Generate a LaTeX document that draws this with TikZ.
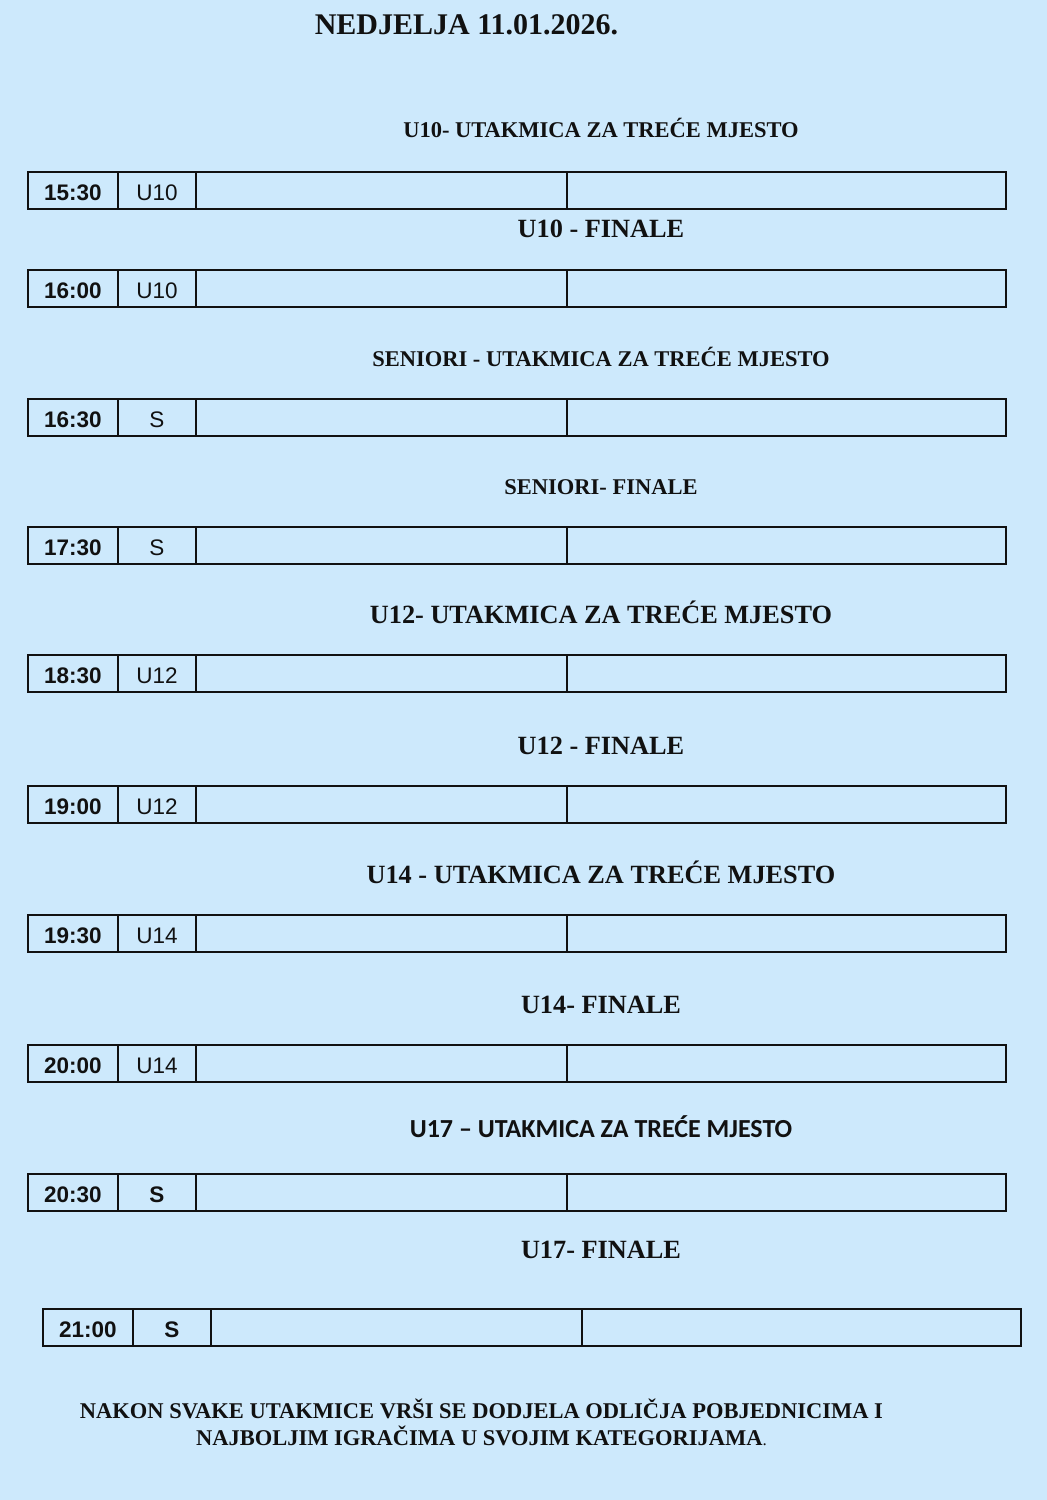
\documentclass[tikz,border=0pt]{standalone}
\usepackage{fontspec}
\setmainfont{Liberation Serif}
\setsansfont{Liberation Sans}
\newfontfamily\carlitofont{Carlito}
\definecolor{bgblue}{RGB}{205,233,252}
\definecolor{ink}{RGB}{17,17,17}
\tikzset{
  cellbox/.style={draw=ink, line width=1.5pt, inner sep=0pt, outer sep=0pt, anchor=north west, minimum height=37pt, text=ink, text height=19pt, text depth=0pt},
  timecell/.style={cellbox, minimum width=90pt, font=\sffamily\bfseries\fontsize{22.5}{27}\selectfont},
  catcell/.style={cellbox, minimum width=78pt, font=\sffamily\fontsize{22.5}{27}\selectfont},
  catbold/.style={cellbox, minimum width=78pt, font=\sffamily\bfseries\fontsize{22.5}{27}\selectfont},
  teamone/.style={cellbox, minimum width=371pt},
  teamtwo/.style={cellbox, minimum width=439pt},
  headsmall/.style={anchor=base, inner sep=0pt, text=ink, font=\bfseries\fontsize{22.5}{27}\selectfont},
  headbig/.style={anchor=base, inner sep=0pt, text=ink, font=\bfseries\fontsize{26.3}{31}\selectfont},
  headsans/.style={anchor=base, inner sep=0pt, text=ink, font=\carlitofont\bfseries\fontsize{26}{31}\selectfont},
  titletext/.style={anchor=base, inner sep=0pt, text=ink, font=\bfseries\fontsize{30}{36}\selectfont},
  notetext/.style={anchor=base, inner sep=0pt, text=ink, font=\bfseries\fontsize{22.5}{27}\selectfont},
}
\newcommand\gamerow[6]{%
  \node[timecell] (#1t) at (#2,#3) {#4};
  \node[#6] (#1c) at (#1t.north east) {#5};
  \node[teamone] (#1a) at (#1c.north east) {};
  \node[teamtwo] (#1b) at (#1a.north east) {};
}
\begin{document}
\begin{tikzpicture}[x=1pt,y=-1pt]
\fill[bgblue] (0,0) rectangle (1047,1500);
\useasboundingbox (0,0) rectangle (1047,1500);

\node[titletext] (title) at (466.5,34) {NEDJELJA 11.01.2026.};

\node[headsmall] (h1) at (601,137.5) {U10- UTAKMICA ZA TREĆE MJESTO};
\gamerow{r1}{28}{172}{15:30}{U10}{catcell}
\node[headbig] (h2) at (601,237) {U10 - FINALE};
\gamerow{r2}{28}{270}{16:00}{U10}{catcell}
\node[headsmall] (h3) at (601,366) {SENIORI - UTAKMICA ZA TREĆE MJESTO};
\gamerow{r3}{28}{399}{16:30}{S}{catcell}
\node[headsmall] (h4) at (601,494) {SENIORI- FINALE};
\gamerow{r4}{28}{527}{17:30}{S}{catcell}
\node[headbig] (h5) at (601,623) {U12- UTAKMICA ZA TREĆE MJESTO};
\gamerow{r5}{28}{655}{18:30}{U12}{catcell}
\node[headbig] (h6) at (601,754) {U12 - FINALE};
\gamerow{r6}{28}{786}{19:00}{U12}{catcell}
\node[headbig] (h7) at (601,883) {U14 - UTAKMICA ZA TREĆE MJESTO};
\gamerow{r7}{28}{915}{19:30}{U14}{catcell}
\node[headbig] (h8) at (601,1013) {U14- FINALE};
\gamerow{r8}{28}{1045}{20:00}{U14}{catcell}
\node[headsans] (h9) at (601,1137) {U17 – UTAKMICA ZA TREĆE MJESTO};
\gamerow{r9}{28}{1174}{20:30}{S}{catbold}
\node[headbig] (h10) at (601,1258) {U17- FINALE};
\gamerow{r10}{43}{1309}{21:00}{S}{catbold}

\node[notetext] (n1) at (481.5,1418) {NAKON SVAKE UTAKMICE VRŠI SE DODJELA ODLIČJA POBJEDNICIMA I};
\node[notetext] (n2) at (481.5,1445) {NAJBOLJIM IGRAČIMA U SVOJIM KATEGORIJAMA{\mdseries\fontsize{17}{20}\selectfont.}};
\end{tikzpicture}
\end{document}
